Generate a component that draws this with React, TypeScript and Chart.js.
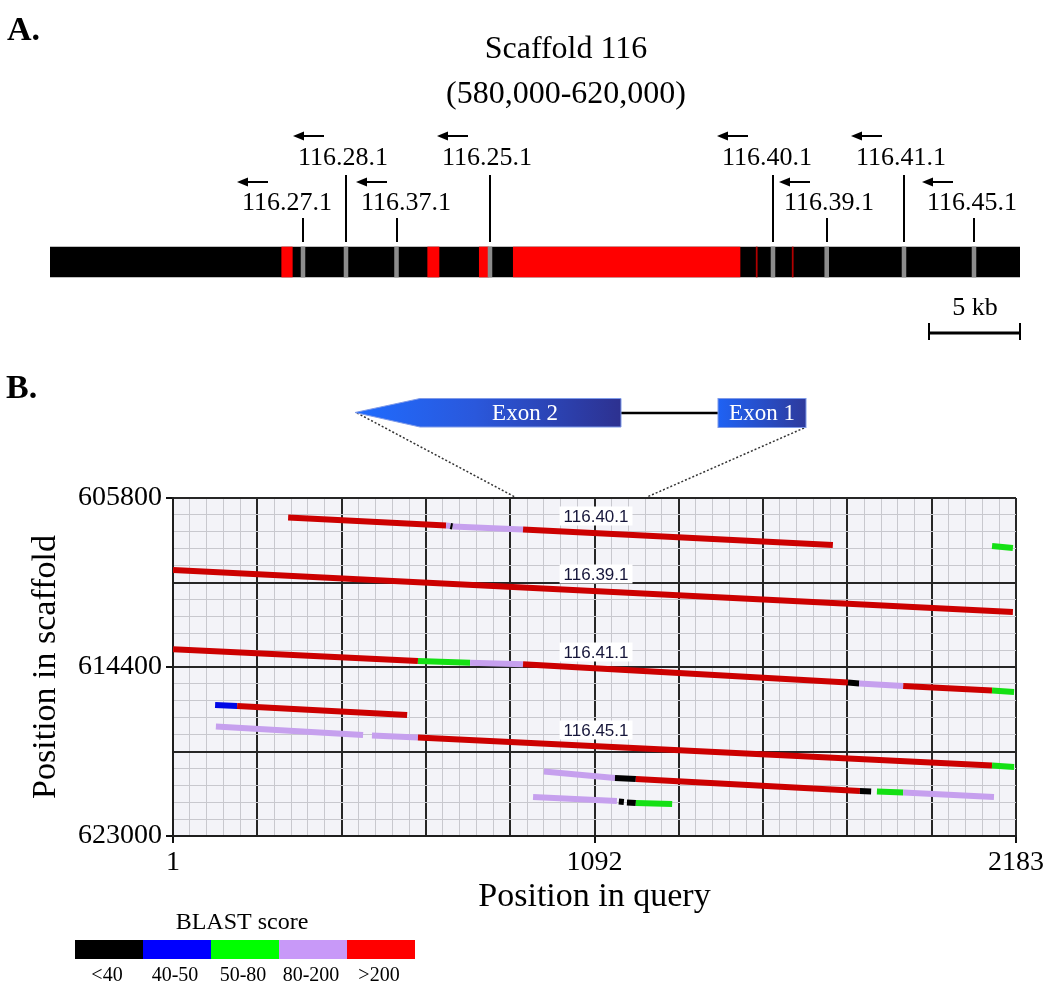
import React, { useEffect, useRef } from 'react';
import { Chart, registerables } from 'chart.js';

Chart.register(...registerables);

const SERIF = "'Liberation Serif', 'Times New Roman', serif";
const SANS = "'Liberation Sans', Arial, sans-serif";

// ---------------- Panel A data ----------------
const titleLines = ['Scaffold 116', '(580,000-620,000)'];
const scaffoldStart = 580000;
const scaffoldEnd = 620000;
const redRegionStarts = [589555, 595575, 597703, 599105, 609120, 610605];
const redRegionEnds = [589992, 596041, 598074, 608454, 609165, 610650];
const geneNames = ['116.27.1', '116.28.1', '116.37.1', '116.25.1', '116.40.1', '116.39.1', '116.41.1', '116.45.1'];
const genePositions = [590433, 592206, 594289, 598144, 609814, 612029, 615216, 618103];
const geneMarkHalfWidth = 80;
const scaleBarLabel = '5 kb';

// ---------------- Panel B data ----------------
const queryMin = 1;
const queryMax = 2183;
const scaffoldMin = 605800;
const scaffoldMax = 623000;
const xTickLabelValues = [1, 1092, 2183];
const yTickLabelValues = [605800, 614400, 623000];
const xTitle = 'Position in query';
const yTitle = 'Position in scaffold';

// BLAST score classes: 0 "<40", 1 "40-50", 2 "50-80", 3 "80-200", 4 ">200", -1 gap
const scoreClasses = ['<40', '40-50', '50-80', '80-200', '>200'];
const legendColors = ['#000000', '#0000ff', '#00ff00', '#c899f8', '#ff0000'];
const lineColors = ['#000000', '#0008e6', '#14e014', '#c6a0ee', '#cc0000'];
const legendTitle = 'BLAST score';

const hit40Query = [299, 708, 719, 725, 907, 1709];
const hit40Scaffold = [606792, 607199, 607225, 607250, 607403, 608192];
const hit40Class = [4, 3, 0, 3, 4];

const hit40bQuery = [2121, 2175];
const hit40bScaffold = [608243, 608344];
const hit40bClass = [2];

const hit39Query = [1, 2175];
const hit39Scaffold = [609464, 611601];
const hit39Class = [4];

const hit41Query = [1, 635, 770, 907, 1748, 1777, 1891, 2121, 2178];
const hit41Scaffold = [613499, 614095, 614181, 614263, 615189, 615240, 615367, 615596, 615672];
const hit41Class = [4, 2, 3, 4, 0, 3, 4, 2];

const hitBlueQuery = [110, 167, 607];
const hitBlueScaffold = [616334, 616385, 616843];
const hitBlueClass = [1, 4];

const hit45Query = [112, 493, 516, 635, 2121, 2178];
const hit45Scaffold = [617428, 617860, 617886, 617988, 619413, 619489];
const hit45Class = [3, -1, 3, 4, 2];

const hitLowAQuery = [961, 1145, 1199, 1779, 1808, 1823, 1891, 2126];
const hitLowAScaffold = [619718, 620049, 620100, 620710, 620736, 620736, 620787, 621016];
const hitLowAClass = [3, 0, 4, 0, -1, 2, 3];

const hitLowBQuery = [933, 1150, 1155, 1168, 1176, 1199, 1293];
const hitLowBScaffold = [621016, 621219, 621245, 621270, 621296, 621321, 621372];
const hitLowBClass = [3, -1, 0, -1, 0, 2];

const hitLabelNames = ['116.40.1', '116.39.1', '116.41.1', '116.45.1'];
const hitLabelQuery = [1096, 1096, 1096, 1096];
const hitLabelScaffold = [606716, 609667, 613637, 617606];

// ---------------- layout constants (pixels) ----------------
const W = 1050;
const H = 991;
const A_H = 340;
const geneRows = [2, 1, 2, 1, 1, 2, 1, 2];
const geneLabelDx = [-16, -3, 9, -3, -6, 2, -3, -2];

function isNear(v: number, list: number[]) {
  return list.some((t) => Math.abs(t - v) < 0.5);
}

function makeHit(q: number[], s: number[], cls: number[]) {
  return {
    type: 'line',
    data: q.map((v, i) => ({ x: v, y: s[i] })),
    borderWidth: 6,
    borderCapStyle: 'butt',
    pointRadius: 0,
    tension: 0,
    borderColor: lineColors[Math.max(cls[0], 0)],
    segment: {
      borderColor: (c: any) => {
        const k = cls[c.p0DataIndex];
        return k < 0 ? 'rgba(0,0,0,0)' : lineColors[k];
      },
    },
  };
}

const panelAPlugin = {
  id: 'panelADecor',
  afterDraw(chart: any) {
    const ctx = chart.ctx;
    const xs = chart.scales.x;
    ctx.save();
    ctx.fillStyle = '#000';
    ctx.strokeStyle = '#000';
    ctx.textBaseline = 'alphabetic';
    ctx.font = `bold 34px ${SERIF}`;
    ctx.textAlign = 'left';
    ctx.fillText('A.', 7, 40);
    ctx.font = `32px ${SERIF}`;
    ctx.textAlign = 'center';
    ctx.fillText(titleLines[0], 566, 58);
    ctx.fillText(titleLines[1], 566, 103);

    ctx.font = `26px ${SERIF}`;
    genePositions.forEach((pos, i) => {
      const px = Math.round(xs.getPixelForValue(pos));
      const row = geneRows[i];
      const lineTop = row === 1 ? 175 : 218;
      const baseline = row === 1 ? 165 : 210;
      const arrowY = row === 1 ? 136 : 182;
      ctx.lineWidth = 2;
      ctx.beginPath();
      ctx.moveTo(px, lineTop);
      ctx.lineTo(px, 242);
      ctx.stroke();
      const cx = px + geneLabelDx[i];
      ctx.textAlign = 'center';
      ctx.fillText(geneNames[i], cx, baseline);
      const w = ctx.measureText(geneNames[i]).width;
      const left = cx - w / 2 - 5;
      ctx.beginPath();
      ctx.moveTo(left + 8, arrowY);
      ctx.lineTo(left + 31, arrowY);
      ctx.stroke();
      ctx.beginPath();
      ctx.moveTo(left, arrowY);
      ctx.lineTo(left + 11, arrowY - 4.5);
      ctx.lineTo(left + 11, arrowY + 4.5);
      ctx.closePath();
      ctx.fill();
    });

    // scale bar
    ctx.textAlign = 'center';
    ctx.fillText(scaleBarLabel, 975, 315);
    ctx.lineWidth = 3;
    ctx.beginPath();
    ctx.moveTo(928, 333);
    ctx.lineTo(1021, 333);
    ctx.stroke();
    ctx.lineWidth = 2;
    ctx.beginPath();
    ctx.moveTo(929, 323);
    ctx.lineTo(929, 343);
    ctx.moveTo(1020, 323);
    ctx.lineTo(1020, 343);
    ctx.stroke();
    ctx.restore();
  },
};

const panelBPlugin = {
  id: 'panelBDecor',
  beforeDraw(chart: any) {
    const { ctx, chartArea } = chart;
    ctx.save();
    ctx.fillStyle = '#f3f3f8';
    ctx.fillRect(chartArea.left, chartArea.top, chartArea.right - chartArea.left, chartArea.bottom - chartArea.top);
    ctx.restore();
  },
  afterDatasetsDraw(chart: any) {
    const ctx = chart.ctx;
    const xs = chart.scales.x;
    const ys = chart.scales.y;
    ctx.save();
    ctx.font = `17px ${SANS}`;
    ctx.textAlign = 'center';
    ctx.textBaseline = 'middle';
    hitLabelNames.forEach((name, i) => {
      const x = xs.getPixelForValue(hitLabelQuery[i]);
      const y = ys.getPixelForValue(hitLabelScaffold[i]);
      const w = ctx.measureText(name).width + 8;
      const h = 19;
      ctx.fillStyle = '#ffffff';
      ctx.fillRect(x - w / 2, y - h / 2, w, h);
      ctx.fillStyle = '#16163a';
      ctx.fillText(name, x, y + 1);
    });
    ctx.restore();
  },
  afterDraw(chart: any) {
    const ctx = chart.ctx;
    ctx.save();
    ctx.fillStyle = '#000';
    ctx.textBaseline = 'alphabetic';
    ctx.font = `bold 34px ${SERIF}`;
    ctx.textAlign = 'left';
    ctx.fillText('B.', 6, 398);

    // dotted connectors
    ctx.strokeStyle = '#333';
    ctx.lineWidth = 1.5;
    ctx.setLineDash([2, 2]);
    ctx.beginPath();
    ctx.moveTo(357, 413);
    ctx.lineTo(515, 497);
    ctx.moveTo(804, 428);
    ctx.lineTo(647, 497);
    ctx.stroke();
    ctx.setLineDash([]);

    // intron
    ctx.strokeStyle = '#000';
    ctx.lineWidth = 2.5;
    ctx.beginPath();
    ctx.moveTo(621, 413);
    ctx.lineTo(718, 413);
    ctx.stroke();

    // exon 2 (arrow)
    const g2 = ctx.createLinearGradient(355, 0, 621, 0);
    g2.addColorStop(0, '#1f6cff');
    g2.addColorStop(0.45, '#2a58dc');
    g2.addColorStop(1, '#2d3190');
    ctx.fillStyle = g2;
    ctx.beginPath();
    ctx.moveTo(355, 412.5);
    ctx.lineTo(420, 398.5);
    ctx.lineTo(621, 398.5);
    ctx.lineTo(621, 427);
    ctx.lineTo(420, 427);
    ctx.closePath();
    ctx.fill();
    ctx.strokeStyle = '#7f9ae8';
    ctx.lineWidth = 1;
    ctx.stroke();

    // exon 1
    const g1 = ctx.createLinearGradient(718, 0, 806, 0);
    g1.addColorStop(0, '#1f62f4');
    g1.addColorStop(1, '#2e3a9c');
    ctx.fillStyle = g1;
    ctx.fillRect(718, 398.5, 88, 29);
    ctx.strokeStyle = '#7f9ae8';
    ctx.strokeRect(718, 398.5, 88, 29);

    ctx.fillStyle = '#ffffff';
    ctx.font = `23px ${SERIF}`;
    ctx.textAlign = 'center';
    ctx.textBaseline = 'middle';
    ctx.fillText('Exon 2', 525, 414);
    ctx.fillText('Exon 1', 762, 414);

    // legend
    ctx.fillStyle = '#000';
    ctx.textBaseline = 'alphabetic';
    ctx.font = `24px ${SERIF}`;
    ctx.fillText(legendTitle, 242, 929);
    const lx0 = 75;
    const lw = 68;
    legendColors.forEach((c, i) => {
      ctx.fillStyle = c;
      ctx.fillRect(lx0 + i * lw, 940, lw, 19);
    });
    ctx.fillStyle = '#000';
    ctx.font = `20px ${SERIF}`;
    scoreClasses.forEach((lab, i) => {
      ctx.fillText(lab, lx0 + i * lw + lw / 2 - 2, 981);
    });
    ctx.restore();
  },
};

export default function App() {
  const refA = useRef<HTMLCanvasElement | null>(null);
  const refB = useRef<HTMLCanvasElement | null>(null);

  useEffect(() => {
    const xGridTicks: number[] = [];
    for (let i = 0; i <= 50; i++) xGridTicks.push(queryMin + (i * (queryMax - queryMin)) / 50);
    const yGridTicks: number[] = [];
    for (let j = 0; j <= 20; j++) yGridTicks.push(scaffoldMin + (j * (scaffoldMax - scaffoldMin)) / 20);

    const gridColor = (c: any) => (c.index % 5 === 0 ? '#262626' : '#c8c8ce');
    const gridWidth = (c: any) => (c.index % 5 === 0 ? 2 : 1);

    const chartB = new Chart(refB.current as HTMLCanvasElement, {
      type: 'line',
      data: {
        datasets: [
          makeHit(hit40Query, hit40Scaffold, hit40Class),
          makeHit(hit40bQuery, hit40bScaffold, hit40bClass),
          makeHit(hit39Query, hit39Scaffold, hit39Class),
          makeHit(hit41Query, hit41Scaffold, hit41Class),
          makeHit(hitBlueQuery, hitBlueScaffold, hitBlueClass),
          makeHit(hit45Query, hit45Scaffold, hit45Class),
          makeHit(hitLowAQuery, hitLowAScaffold, hitLowAClass),
          makeHit(hitLowBQuery, hitLowBScaffold, hitLowBClass),
        ] as any,
      },
      options: {
        responsive: false,
        animation: false,
        devicePixelRatio: 1,
        events: [],
        layout: { padding: { left: 0, top: 498, right: 34, bottom: 55 } },
        plugins: { legend: { display: false }, tooltip: { enabled: false }, title: { display: false } },
        scales: {
          x: {
            type: 'linear',
            min: queryMin,
            max: queryMax,
            afterBuildTicks: (s: any) => {
              s.ticks = xGridTicks.map((v) => ({ value: v }));
            },
            afterFit: (s: any) => {
              s.height = 100;
            },
            ticks: {
              autoSkip: false,
              maxRotation: 0,
              padding: 3,
              color: '#000',
              font: { family: SERIF, size: 28 },
              callback: (v: any) => (isNear(Number(v), xTickLabelValues) ? String(Math.round(Number(v))) : ''),
            },
            grid: {
              color: gridColor,
              lineWidth: gridWidth,
              tickColor: (c: any) => (c.tick && isNear(c.tick.value, xTickLabelValues) ? '#111' : 'rgba(0,0,0,0)'),
              tickWidth: 2,
              tickLength: 7,
            },
            border: { display: true, color: '#1e1e1e', width: 2 },
            title: {
              display: true,
              text: xTitle,
              color: '#000',
              font: { family: SERIF, size: 34 },
              padding: { top: 0, bottom: 19 },
            },
          },
          y: {
            type: 'linear',
            reverse: true,
            min: scaffoldMin,
            max: scaffoldMax,
            afterBuildTicks: (s: any) => {
              s.ticks = yGridTicks.map((v) => ({ value: v }));
            },
            afterFit: (s: any) => {
              s.width = 173;
            },
            ticks: {
              autoSkip: false,
              padding: 4,
              color: '#000',
              font: { family: SERIF, size: 28 },
              callback: (v: any) => (isNear(Number(v), yTickLabelValues) ? String(Math.round(Number(v))) : ''),
            },
            grid: {
              color: gridColor,
              lineWidth: gridWidth,
              tickColor: (c: any) => (c.tick && isNear(c.tick.value, yTickLabelValues) ? '#111' : 'rgba(0,0,0,0)'),
              tickWidth: 2,
              tickLength: 7,
            },
            border: { display: true, color: '#1e1e1e', width: 2 },
            title: {
              display: true,
              text: yTitle,
              color: '#000',
              font: { family: SERIF, size: 34 },
              padding: { top: 26, bottom: 0 },
            },
          },
        },
      } as any,
      plugins: [panelBPlugin],
    });

    // Chart.js paints the first dataset on top, so the base bar comes last.
    const chartA = new Chart(refA.current as HTMLCanvasElement, {
      type: 'bar',
      data: {
        labels: ['scaffold'],
        datasets: [
          {
            data: genePositions.map((p) => ({ x: [p - geneMarkHalfWidth, p + geneMarkHalfWidth], y: 'scaffold' })),
            backgroundColor: '#8c8c8c',
            borderWidth: 0,
          },
          {
            data: redRegionStarts.map((s, i) => ({ x: [s, redRegionEnds[i]], y: 'scaffold' })),
            backgroundColor: redRegionStarts.map((s, i) => (redRegionEnds[i] - s < 100 ? '#b00000' : '#ff0000')),
            borderWidth: 0,
          },
          {
            data: [{ x: [scaffoldStart, scaffoldEnd], y: 'scaffold' }],
            backgroundColor: '#000000',
            borderWidth: 0,
          },
        ] as any,
      },
      options: {
        responsive: false,
        animation: false,
        devicePixelRatio: 1,
        events: [],
        indexAxis: 'y',
        datasets: { bar: { barThickness: 30, grouped: false } },
        layout: { padding: { left: 50, right: 30, top: 232, bottom: 48 } },
        plugins: { legend: { display: false }, tooltip: { enabled: false } },
        scales: {
          x: { type: 'linear', min: scaffoldStart, max: scaffoldEnd, display: false },
          y: { type: 'category', display: false },
        },
      } as any,
      plugins: [panelAPlugin],
    });

    return () => {
      chartA.destroy();
      chartB.destroy();
    };
  }, []);

  return (
    <div style={{ position: 'absolute', left: 0, top: 0, width: W, height: H, background: '#fff' }}>
      <canvas ref={refB} width={W} height={H} style={{ position: 'absolute', left: 0, top: 0 }} />
      <canvas ref={refA} width={W} height={A_H} style={{ position: 'absolute', left: 0, top: 0 }} />
    </div>
  );
}
